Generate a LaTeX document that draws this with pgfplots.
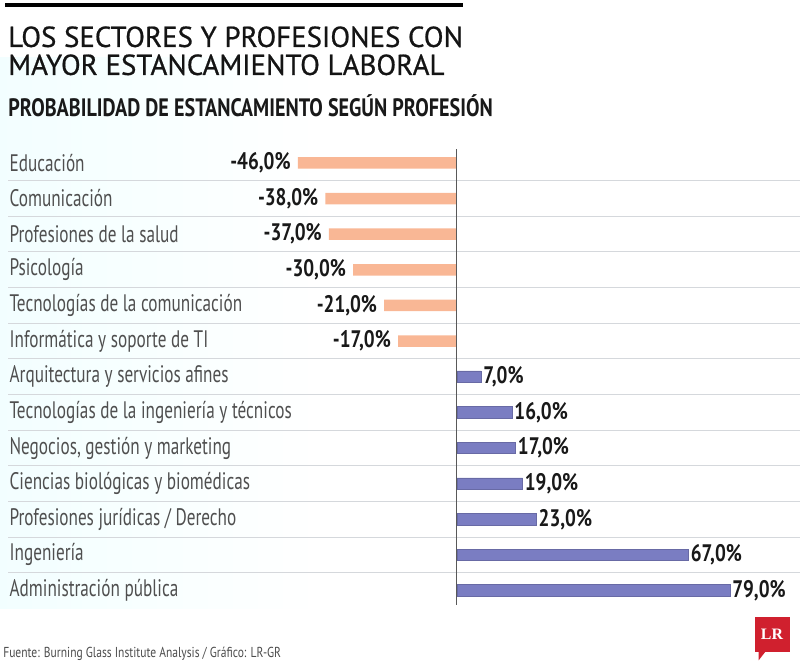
\documentclass[border=0pt]{standalone}
\usepackage{pgfplots}
\pgfplotsset{compat=1.18}
\usepackage{fontspec}
\setmainfont{PT Sans}
\newfontfamily\condfont[FakeStretch=0.8]{PT Sans}
\newfontfamily\lblfont[FakeStretch=0.72]{PT Sans}
\newfontfamily\titlefont[FakeBold=0.7]{PT Sans}
\newfontfamily\logofont{Liberation Serif}
\definecolor{neg}{HTML}{F9B795}
\definecolor{pos}{HTML}{7A7DC2}
\definecolor{lbl}{HTML}{4F4F4F}
\definecolor{sep}{HTML}{D5D8DC}
\definecolor{lrred}{HTML}{D0202E}
\begin{document}
\begin{tikzpicture}[x=1bp,y=1bp]
\path (0,0) rectangle (800,666);
\shade[left color=blue!5!cyan!5, right color=white] (0,57.2) rectangle (320,608.8);
\fill[black] (5,659) rectangle (463,663);
\node[anchor=base west,inner sep=0pt,text=black!92] at (8,619) {\titlefont\fontsize{29}{29}\selectfont LOS SECTORES Y PROFESIONES CON};
\node[anchor=base west,inner sep=0pt,text=black!92] at (8,591) {\titlefont\fontsize{29}{29}\selectfont MAYOR ESTANCAMIENTO LABORAL};
\node[anchor=base west,inner sep=0pt,text=black!90] at (8,549) {\condfont\bfseries\fontsize{25.3}{25}\selectfont PROBABILIDAD DE ESTANCAMIENTO SEGÚN PROFESIÓN};
\begin{axis}[
  at={(0bp,57.2bp)}, anchor=south west,
  scale only axis, width=800bp, height=463.6bp,
  xmin=-132.1, xmax=99.1, ymin=-0.5, ymax=12.5,
  clip=false,
  axis line style={draw=none},
  xtick=\empty, ytick={0,...,12}, major tick length=0pt,
  yticklabels={Administración pública,Ingeniería,Profesiones jurídicas / Derecho,Ciencias biológicas y biomédicas,{Negocios, gestión y marketing},Tecnologías de la ingeniería y técnicos,Arquitectura y servicios afines,Informática y soporte de TI,Tecnologías de la comunicación,Psicología,Profesiones de la salud,Comunicación,Educación},
  yticklabel style={anchor=west, xshift=6bp, text=lbl, font=\lblfont\fontsize{24}{24}\selectfont},
  xbar, bar width=11.5bp, bar shift=0pt,
  point meta=x,
  nodes near coords={\pgfmathprintnumber[fixed,fixed zerofill,precision=1,use comma,assume math mode=true]{\pgfplotspointmeta}\%},
  nodes near coords style={font=\condfont\bfseries\fontsize{24}{24}\selectfont, text=black!90, inner sep=2bp},
]
\pgfplotsinvokeforeach{0,...,11}{
  \draw[sep, line width=1bp] (axis cs:-129.8,#1+0.5) -- (axis cs:99.1,#1+0.5);
}
\addplot[fill=neg, draw=none, every node near coord/.append style={anchor=east, xshift=-5bp}] coordinates {(-46,12) (-38,11) (-37,10) (-30,9) (-21,8) (-17,7)};
\addplot[fill=pos, draw=pos!85!black, line width=0.6bp, every node near coord/.append style={anchor=west}] coordinates {(7,6) (16,5) (17,4) (19,3) (23,2) (67,1) (79,0)};
\draw[black!65, line width=1bp] (axis cs:0,-0.4) -- (axis cs:0,12.4);
\end{axis}
\node[anchor=base west,inner sep=0pt,text=black!70] at (3,8) {\condfont\fontsize{14.5}{14.5}\selectfont Fuente: Burning Glass Institute Analysis / Gráfico: LR-GR};
\fill[lrred] (755,14) rectangle (790,49);
\fill[lrred] (759,14) -- (766,14) -- (759,5) -- cycle;
\node[text=white, inner sep=0pt] at (772.5,31.5) {\logofont\bfseries\fontsize{16}{16}\selectfont LR};
\end{tikzpicture}
\end{document}
